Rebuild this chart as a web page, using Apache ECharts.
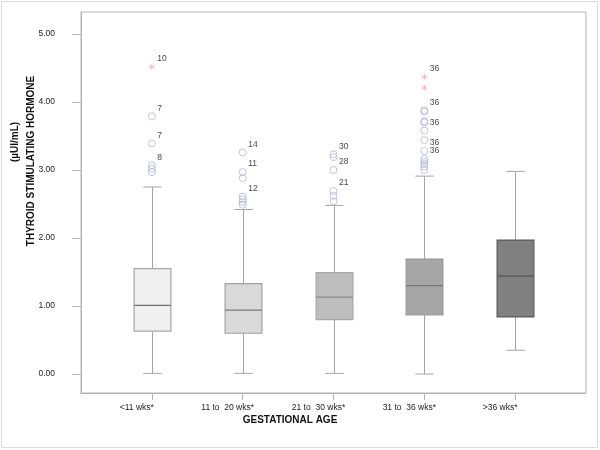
<!DOCTYPE html>
<html>
<head>
<meta charset="utf-8">
<script src="https://cdn.jsdelivr.net/npm/echarts@6/dist/echarts.min.js"></script>
<style>
  html, body { margin: 0; padding: 0; background: #fff; }
  #chart { width: 600px; height: 450px; }
</style>
</head>
<body>
<div id="chart"></div>
<script>
// gestational age groups
var categories = ['<11 wks*', '11 to  20 wks*', '21 to  30 wks*', '31 to  36 wks*', '>36 wks*']
// [min, Q1, median, Q3, max] per group
var boxStats = [
  [0.01, 0.63, 1.01, 1.55, 2.75],
  [0.01, 0.60, 0.94, 1.33, 2.42],
  [0.01, 0.80, 1.13, 1.49, 2.48],
  [0.00, 0.87, 1.30, 1.69, 2.91],
  [0.35, 0.84, 1.44, 1.97, 2.98]
]
// outliers (circles) and extremes (stars) per group
var outliers = [
  [3.79, 3.39, 3.07, 3.02, 2.97],
  [3.26, 2.97, 2.88, 2.61, 2.57, 2.53, 2.49],
  [3.23, 3.19, 3.00, 2.69, 2.62, 2.54],
  [3.88, 3.86, 3.72, 3.70, 3.58, 3.44, 3.28, 3.16, 3.12, 3.09, 3.05, 3.00],
  []
]
var extremes = [
  [4.52],
  [],
  [],
  [4.37, 4.21],
  []
]
// case labels: [group, value, text]
var caseLabels = [
  [0, 4.52, '10'], [0, 3.79, '7'], [0, 3.39, '7'], [0, 3.07, '8'],
  [1, 3.26, '14'], [1, 2.97, '11'], [1, 2.61, '12'],
  [2, 3.23, '30'], [2, 3.00, '28'], [2, 2.69, '21'],
  [3, 4.37, '36'], [3, 3.88, '36'], [3, 3.58, '36'], [3, 3.28, '36'], [3, 3.16, '36']
]
var yTicks = [0, 1, 2, 3, 4, 5]

var fills = ['#f0f0f0', '#d9d9d9', '#bdbdbd', '#a6a6a6', '#808080']
var borders = ['#a6a6a6', '#a0a0a0', '#a8a8a8', '#999999', '#5a5a5a']
var medians = ['#6e6e6e', '#7a7a7a', '#8a8a8a', '#777777', '#555555']
var font = "'Liberation Sans', Arial, sans-serif"

var chart = echarts.init(document.getElementById('chart'))

var boxData = boxStats.map(function (s, i) { return [i].concat(s) })
var circleData = []
outliers.forEach(function (arr, i) { arr.forEach(function (v) { circleData.push([i, v]) }) })
var starData = []
extremes.forEach(function (arr, i) { arr.forEach(function (v) { starData.push([i, v]) }) })
var labelData = caseLabels.map(function (c) { return { value: [c[0], c[1]], label: { formatter: c[2] } } })

function renderBox(params, api) {
  var i = api.value(0)
  var pMin = api.coord([i, api.value(1)])
  var pQ1 = api.coord([i, api.value(2)])
  var pMed = api.coord([i, api.value(3)])
  var pQ3 = api.coord([i, api.value(4)])
  var pMax = api.coord([i, api.value(5)])
  var w = api.size([0.405, 0])[0]
  var cx = Math.round(pMed[0]) + 0.5
  var hw = w / 2
  var cw = w / 4
  var line = { stroke: '#a4a4a4', lineWidth: 1 }
  return {
    type: 'group',
    children: [
      { type: 'line', shape: { x1: cx, y1: pQ3[1], x2: cx, y2: pMax[1] }, style: line },
      { type: 'line', shape: { x1: cx, y1: pQ1[1], x2: cx, y2: pMin[1] }, style: line },
      { type: 'line', shape: { x1: cx - cw, y1: pMax[1], x2: cx + cw, y2: pMax[1] }, style: line },
      { type: 'line', shape: { x1: cx - cw, y1: pMin[1], x2: cx + cw, y2: pMin[1] }, style: line },
      { type: 'rect', shape: { x: cx - hw, y: pQ3[1], width: w, height: pQ1[1] - pQ3[1] },
        style: { fill: fills[i], stroke: borders[i], lineWidth: 1.2 } },
      { type: 'line', shape: { x1: cx - hw, y1: pMed[1], x2: cx + hw, y2: pMed[1] },
        style: { stroke: medians[i], lineWidth: 1.2 } }
    ]
  }
}

var option = {
  animation: false,
  backgroundColor: '#fff',
  grid: {
    left: 81, right: 14, top: 12, bottom: 57,
    show: true, borderColor: '#b4b4b4', borderWidth: 1
  },
  xAxis: {
    type: 'value',
    min: -0.78,
    max: 4.78,
    splitLine: { show: false },
    axisLine: { show: true, onZero: false, lineStyle: { color: '#b4b4b4' } },
    axisTick: { show: true, length: 7, customValues: [0, 1, 2, 3, 4], lineStyle: { color: '#b4b4b4' } },
    axisLabel: {
      customValues: [0, 1, 2, 3, 4],
      formatter: function (v) { return categories[Math.round(v)] },
      fontFamily: font, fontSize: 8.5, color: '#222', margin: 10,
      padding: [0, 30, 0, 0]
    }
  },
  yAxis: {
    type: 'value',
    min: -0.279,
    max: 5.324,
    splitLine: { show: false },
    axisLine: { show: true, onZero: false, lineStyle: { color: '#b4b4b4' } },
    axisTick: { show: true, length: 9, customValues: yTicks, lineStyle: { color: '#b4b4b4' } },
    axisLabel: {
      customValues: yTicks,
      formatter: function (v) { return v.toFixed(2) },
      fontFamily: font, fontSize: 8.5, color: '#222', margin: 26
    }
  },
  graphic: [
    { type: 'rect', shape: { x: 1.5, y: 1.5, width: 596, height: 446 },
      style: { fill: 'none', stroke: '#dcdcdc', lineWidth: 1 }, silent: true },
    { type: 'text', x: 290, y: 420,
      style: { text: 'GESTATIONAL AGE', font: 'bold 10px ' + font, fill: '#111',
        textAlign: 'center', textVerticalAlign: 'middle' } },
    { type: 'text', x: 31, y: 161, rotation: Math.PI / 2,
      style: { text: 'THYROID STIMULATING HORMONE', font: 'bold 10px ' + font, fill: '#111',
        textAlign: 'center', textVerticalAlign: 'middle' } },
    { type: 'text', x: 15, y: 142, rotation: Math.PI / 2,
      style: { text: '(\u00b5UI/mL)', font: 'bold 10px ' + font, fill: '#111',
        textAlign: 'center', textVerticalAlign: 'middle' } }
  ],
  series: [
    {
      type: 'custom',
      renderItem: renderBox,
      encode: { x: 0, y: [1, 2, 3, 4, 5] },
      data: boxData,
      z: 2
    },
    {
      type: 'scatter',
      symbol: 'circle',
      symbolSize: 7,
      itemStyle: { color: 'none', borderColor: '#aeb8d2', borderWidth: 1 },
      data: circleData,
      z: 3
    },
    {
      type: 'scatter',
      symbol: 'path://M0,-1L0,1M-0.87,-0.5L0.87,0.5M-0.87,0.5L0.87,-0.5',
      symbolSize: 6,
      itemStyle: { color: 'none', borderColor: '#e2a3b0', borderWidth: 0.9 },
      data: starData,
      z: 3
    },
    {
      type: 'scatter',
      symbolSize: 7,
      itemStyle: { color: 'none', borderWidth: 0 },
      label: {
        show: true, position: 'right', distance: 2, offset: [0, -8],
        fontFamily: font, fontSize: 8.5, color: '#111'
      },
      data: labelData,
      silent: true,
      z: 4
    }
  ]
}

chart.setOption(option)
</script>
</body>
</html>
